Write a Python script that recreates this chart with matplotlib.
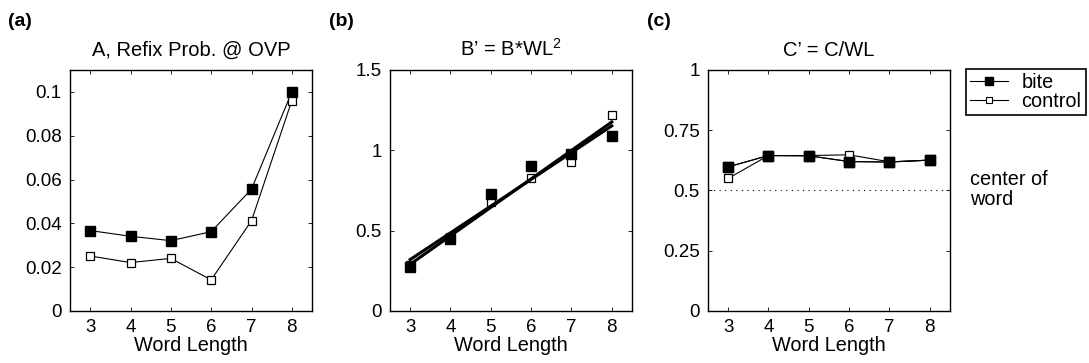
import numpy as np
import matplotlib
matplotlib.use("Agg")
import matplotlib.pyplot as plt

plt.rcParams['font.family'] = ['Liberation Sans', 'DejaVu Sans']
plt.rcParams['mathtext.fontset'] = 'custom'
plt.rcParams['mathtext.rm'] = 'Liberation Sans'

word_len = [3, 4, 5, 6, 7, 8]

# (a) refixation probability at OVP
refix_bite = [0.0367, 0.0341, 0.0321, 0.0362, 0.0556, 0.1000]
refix_control = [0.0251, 0.0221, 0.0240, 0.0142, 0.0412, 0.0960]

# (b) B' = B*WL^2
b_bite = [0.274, 0.450, 0.726, 0.900, 0.979, 1.087]
b_control = [0.288, 0.460, 0.678, 0.830, 0.927, 1.218]

# (c) C' = C/WL
c_bite = [0.598, 0.645, 0.644, 0.620, 0.618, 0.626]
c_control = [0.550, 0.645, 0.645, 0.648, 0.619, 0.626]

titles = ['A, Refix Prob. @ OVP', 'B\u2019 = B*WL$^2$', 'C\u2019 = C/WL']
panel_labels = ['(a)', '(b)', '(c)']
yticks = [[0, 0.02, 0.04, 0.06, 0.08, 0.1],
          [0, 0.5, 1, 1.5],
          [0, 0.25, 0.5, 0.75, 1]]
ytick_labels = [['0', '0.02', '0.04', '0.06', '0.08', '0.1'],
                ['0', '0.5', '1', '1.5'],
                ['0', '0.25', '0.5', '0.75', '1']]
ylims = [(0, 0.11), (0, 1.5), (0, 1)]

fig = plt.figure(figsize=(10.89, 3.63), dpi=100)
lefts = [0.0643, 0.3581, 0.6501]
axes = [fig.add_axes([l, 0.1433, 0.2222, 0.6639]) for l in lefts]

filled = dict(marker='s', color='k', markerfacecolor='k', markeredgecolor='k', markersize=7.5)
hollow = dict(marker='s', color='k', markerfacecolor='white', markeredgecolor='k',
              markersize=6, markeredgewidth=0.9)

ax = axes[0]
ax.plot(word_len, refix_bite, lw=0.8, **filled)
ax.plot(word_len, refix_control, lw=0.8, **hollow)

ax = axes[1]
x = np.array(word_len)
for ys in (b_bite, b_control):
    p = np.polyfit(x, ys, 1)
    ax.plot(x, np.polyval(p, x), color='k', lw=2.2, zorder=3)
ax.plot(word_len, b_control, ls='none', zorder=2, **hollow)
ax.plot(word_len, b_bite, ls='none', zorder=2, **filled)

ax = axes[2]
ax.axhline(0.5, color='k', ls=(0, (1, 4)), lw=0.8)
ax.plot(word_len, c_bite, lw=0.8, **filled)
ax.plot(word_len, c_control, lw=0.8, **hollow)
ax.plot(word_len, c_bite, lw=0.8, **filled)

for i, ax in enumerate(axes):
    ax.set_xlim(2.5, 8.5)
    ax.set_ylim(*ylims[i])
    ax.set_xticks(word_len)
    ax.set_yticks(yticks[i])
    ax.set_yticklabels(ytick_labels[i])
    ax.tick_params(direction='in', top=True, right=True, labelsize=13.5, length=3, width=0.6)
    ax.tick_params(axis='x', pad=6)
    ax.tick_params(axis='y', pad=6)
    for s in ax.spines.values():
        s.set_linewidth(1.0)
    ax.set_xlabel('Word Length', fontsize=14.3, labelpad=0)
    ax.set_title(titles[i], fontsize=14.5, pad=10)

for xpos, lab in zip([0.007, 0.302, 0.594], panel_labels):
    fig.text(xpos, 0.94, lab, fontsize=14, fontweight='bold', va='center')

# legend handles: smaller markers than the plotted ones
hb, = axes[2].plot([], [], lw=0.8, marker='s', color='k', markersize=6)
hc, = axes[2].plot([], [], lw=0.8, marker='s', color='k', markerfacecolor='white',
                   markersize=5, markeredgewidth=0.8)
leg = fig.legend([hb, hc], ['bite', 'control'], loc='upper left',
                 bbox_to_anchor=(0.887, 0.81), fontsize=14.3, frameon=True,
                 fancybox=False, framealpha=1, edgecolor='k', handlelength=1.9,
                 handletextpad=0.7, borderpad=0.2, labelspacing=0.0, borderaxespad=0)
leg.get_frame().set_linewidth(1.2)

fig.text(0.891, 0.477, 'center of\nword', fontsize=14.3, va='center', ha='left', linespacing=1.05)

fig.savefig('out.png', dpi=100)
